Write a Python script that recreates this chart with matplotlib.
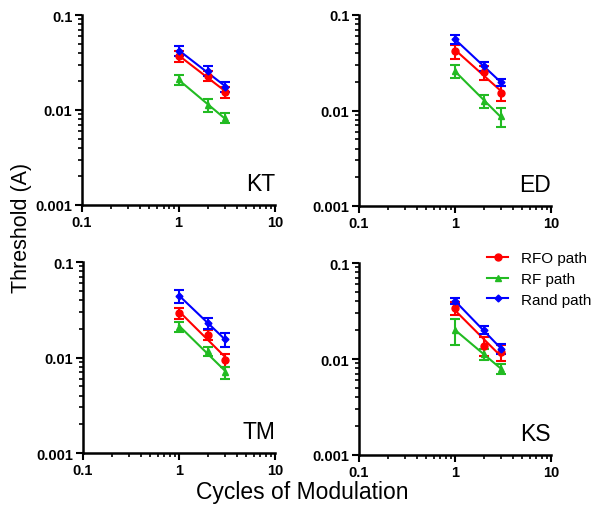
import numpy as np
import matplotlib
matplotlib.use('Agg')
import matplotlib.pyplot as plt
from matplotlib.lines import Line2D

plt.rcParams['font.family'] = ['Liberation Sans', 'DejaVu Sans']

cycles = [1, 2, 3]
subjects = ['KT', 'ED', 'TM', 'KS']

# thresholds, per subject: RFO, RF, Rand
rfo = {'KT': [0.037, 0.023, 0.0155], 'ED': [0.042, 0.025, 0.0153],
       'TM': [0.029, 0.0174, 0.0094], 'KS': [0.034, 0.0138, 0.0118]}
rf = {'KT': [0.021, 0.0113, 0.0083], 'ED': [0.026, 0.0125, 0.0087],
      'TM': [0.021, 0.0116, 0.007], 'KS': [0.020, 0.0113, 0.0079]}
rand = {'KT': [0.042, 0.026, 0.0175], 'ED': [0.0556, 0.029, 0.0198],
        'TM': [0.0445, 0.023, 0.0155], 'KS': [0.040, 0.020, 0.0128]}

# error bar half widths
rfo_err = {'KT': [0.005, 0.003, 0.002], 'ED': [0.007, 0.004, 0.0027],
           'TM': [0.004, 0.002, 0.0015], 'KS': [0.005, 0.003, 0.0022]}
rf_err = {'KT': [0.0025, 0.0018, 0.001], 'ED': [0.004, 0.002, 0.002],
          'TM': [0.0025, 0.0012, 0.001], 'KS': [0.006, 0.0015, 0.001]}
rand_err = {'KT': [0.005, 0.003, 0.002], 'ED': [0.006, 0.003, 0.0018],
            'TM': [0.007, 0.003, 0.0025], 'KS': [0.003, 0.002, 0.0015]}

series = [('RFO path', rfo, rfo_err, 'red', 'o', 5),
          ('RF path', rf, rf_err, '#22bb22', '^', 5),
          ('Rand path', rand, rand_err, 'blue', 'D', 3.5)]

fig = plt.figure(figsize=(5.91, 5.06), dpi=100)
W, H = 591., 506.
boxes = [(82, 16, 275, 206), (359, 16, 551, 207),
         (83, 263, 275, 454), (359, 264, 551, 456)]

for subj, (l, t, r, b) in zip(subjects, boxes):
    ax = fig.add_axes([l / W, 1 - b / H, (r - l) / W, (b - t) / H])
    x = np.array(cycles, dtype=float)
    for name, d, e, col, mk, ms in series:
        y = np.array(d[subj])
        ax.errorbar(x, y, yerr=e[subj], fmt=mk, color=col, ms=ms,
                    capsize=3.5, elinewidth=1.5, capthick=1.5, label=name)
        # straight fit in log-log
        p = np.polyfit(np.log10(x), np.log10(y), 1)
        ax.plot(x, 10 ** np.polyval(p, np.log10(x)), color=col, lw=1.5)
    ax.set_xscale('log')
    ax.set_yscale('log')
    ax.set_xlim(0.1, 10)
    ax.set_ylim(0.001, 0.1)
    ax.set_xticks([0.1, 1, 10])
    ax.set_xticklabels(['0.1', '1', '10'])
    ax.set_yticks([0.001, 0.01, 0.1])
    ax.set_yticklabels(['0.001', '0.01', '0.1'])
    for s in ['top', 'right']:
        ax.spines[s].set_visible(False)
    for s in ['left', 'bottom']:
        ax.spines[s].set_linewidth(1.8)
    ax.tick_params(which='major', length=5, width=1.5, labelsize=10.5, pad=2)
    ax.tick_params(which='minor', length=3, width=1.2)
    for lab in ax.get_xticklabels() + ax.get_yticklabels():
        lab.set_fontweight('bold')
    ax.text(1.0, 0.078, subj, transform=ax.transAxes, ha='right',
            va='baseline', fontsize=16.5)
    if subj == 'KS':
        lb = [s[0] for s in series]
        hh = [Line2D([], [], color=c, marker=m, ms=ms, lw=1.5)
              for _, _, _, c, m, ms in series]
        ax.legend(hh, lb, loc='upper left', bbox_to_anchor=(0.636, 1.094),
                  frameon=False, fontsize=11, handlelength=1.35,
                  labelspacing=0.45, borderaxespad=0, handletextpad=0.85)

fig.text(22 / W, 1 - 228 / H, 'Threshold (A)', rotation=90, ha='center',
         va='center', fontsize=15.5)
fig.text(302 / W, 1 - 493 / H, 'Cycles of Modulation', ha='center',
         va='center', fontsize=16.5)

fig.savefig('out.png', dpi=100)
